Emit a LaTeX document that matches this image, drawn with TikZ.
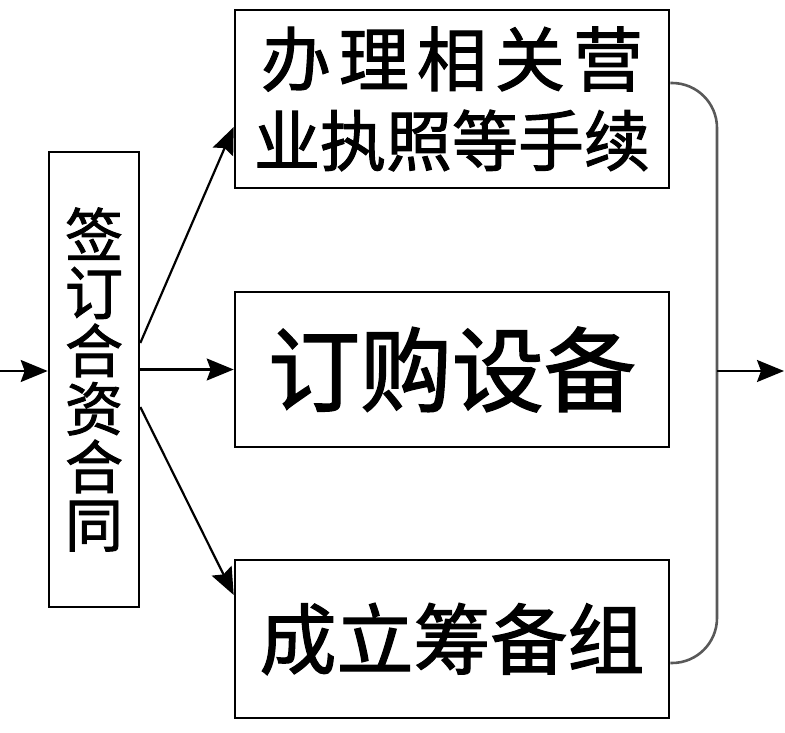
\documentclass[tikz,border=0pt]{standalone}
\usepackage{fontspec}
\newfontfamily\cjk[FakeBold=1.6]{Noto Sans CJK SC}
\usetikzlibrary{arrows.meta}

\begin{document}
\begin{tikzpicture}[x=1pt,y=-1pt,line width=2.6pt,
    box/.style={draw,inner sep=0pt,align=center,font=\cjk},
    arr/.style={-{Stealth[length=27pt,width=22pt,inset=4pt]},line width=2.2pt}]
  \useasboundingbox (0,0) rectangle (785,733);
  \node[box,minimum width=90pt,minimum height=455pt,
    font=\cjk\fontsize{58}{58}\selectfont] (sign) at (94,379.5)
    {\raisebox{18pt}{\parbox{80pt}{\centering 签\\订\\合\\资\\合\\同}}};
  \node[box,minimum width=434pt,minimum height=178pt,
    font=\cjk\fontsize{66}{80}\selectfont] (permit) at (452,99)
    {\makebox[382pt][s]{\fontsize{70}{80}\selectfont
      办\hfill 理\hfill 相\hfill 关\hfill 营}\\业执照等手续};
  \node[box,minimum width=434pt,minimum height=155pt,
    font=\cjk\fontsize{92}{92}\selectfont] (order) at (452,369.5) {订购设备};
  \node[box,minimum width=434pt,minimum height=158pt,
    font=\cjk\fontsize{77}{77}\selectfont] (team) at (452,639) {成立筹备组};
  \coordinate (in) at (0,371);
  \coordinate (join) at (717,371);
  \coordinate (out) at (784,371);
  \draw[arr] (in) -- (in -| sign.west);
  \draw[arr] ([yshift=36.5pt]sign.east) -- ([yshift=-28pt]permit.west);
  \draw[arr] (sign.east |- order.west) -- (order.west);
  \draw[arr] ([yshift=-27.5pt]sign.east) -- ([yshift=44pt]team.west);
  \draw[rounded corners=45pt,black!65] ([yshift=16pt]permit.east) -| (join)
    |- ([yshift=-24pt]team.east);
  \draw[arr] (join) -- (out);
\end{tikzpicture}
\end{document}
